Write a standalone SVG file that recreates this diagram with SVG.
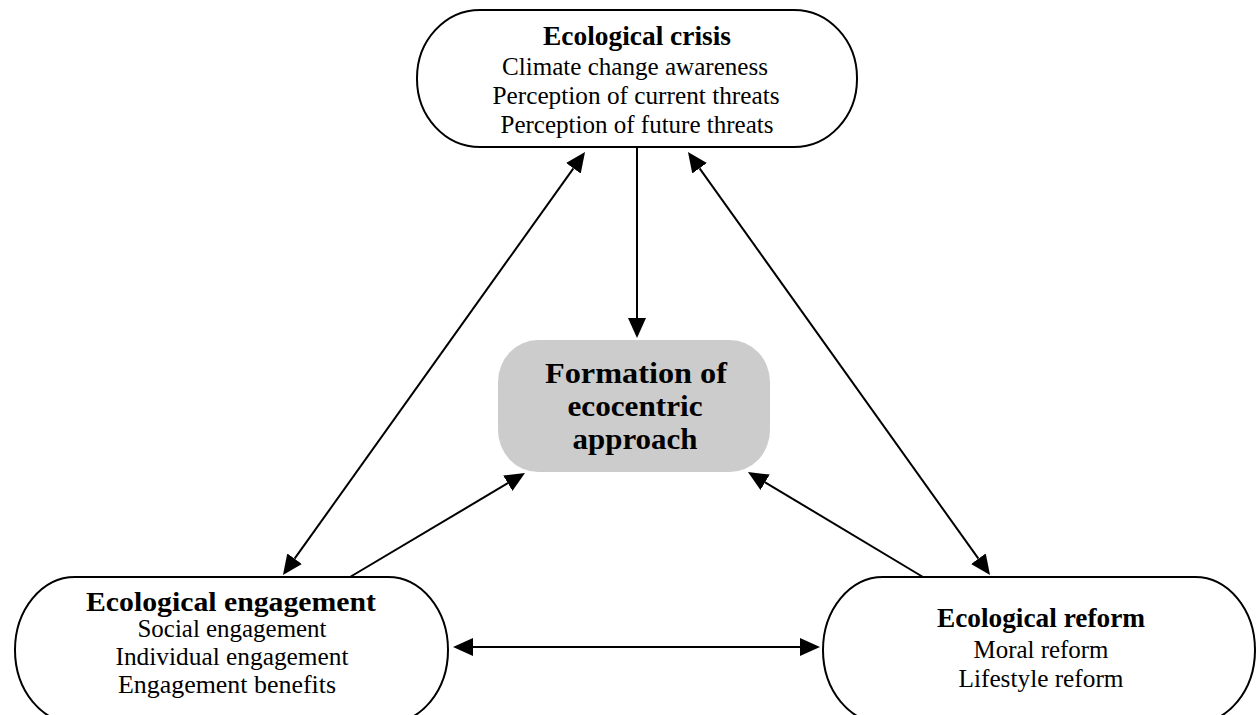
<svg xmlns="http://www.w3.org/2000/svg" width="1257" height="715" viewBox="0 0 1257 715">
<style>
  .node { fill: #ffffff; stroke: #000000; stroke-width: 2; }
  .core { fill: #cccccc; stroke: none; }
  .t { font-family: "Liberation Serif", "Times New Roman", serif; text-anchor: middle; fill: #000000; }
  .title { font-size: 27px; font-weight: bold; }
  .body { font-size: 25px; }
  .big { font-size: 29px; font-weight: bold; }
  .conn line { stroke: #000000; stroke-width: 2; fill: none; }
</style>
<defs>
  <marker id="ah" viewBox="0 0 20 18" refX="0" refY="9" markerWidth="20" markerHeight="18" markerUnits="userSpaceOnUse" orient="auto-start-reverse">
    <path d="M0,0 L20,9 L0,18 Z" fill="#000000"/>
  </marker>
</defs>
<rect x="0" y="0" width="1257" height="715" fill="#ffffff"/>

<g id="node-crisis">
  <rect class="node" x="417" y="10" width="440" height="137" rx="63" ry="68"/>
  <text class="t title" x="637" y="45" textLength="188" lengthAdjust="spacingAndGlyphs">Ecological crisis</text>
  <text class="t body" x="635" y="75" textLength="266" lengthAdjust="spacingAndGlyphs">Climate change awareness</text>
  <text class="t body" x="636" y="104" textLength="287" lengthAdjust="spacingAndGlyphs">Perception of current threats</text>
  <text class="t body" x="637" y="133" textLength="273" lengthAdjust="spacingAndGlyphs">Perception of future threats</text>
</g>

<g id="node-formation">
  <rect class="core" x="498" y="340" width="272" height="132" rx="40" ry="42"/>
  <text class="t big" x="636" y="383" textLength="182" lengthAdjust="spacingAndGlyphs">Formation of</text>
  <text class="t big" x="635" y="416" textLength="135" lengthAdjust="spacingAndGlyphs">ecocentric</text>
  <text class="t big" x="635" y="449" textLength="125" lengthAdjust="spacingAndGlyphs">approach</text>
</g>

<g id="node-engagement">
  <rect class="node" x="15" y="577" width="433" height="146" rx="60" ry="73"/>
  <text class="t title" x="231" y="611" textLength="290" lengthAdjust="spacingAndGlyphs">Ecological engagement</text>
  <text class="t body" x="232" y="637" textLength="189" lengthAdjust="spacingAndGlyphs">Social engagement</text>
  <text class="t body" x="232" y="665" textLength="233" lengthAdjust="spacingAndGlyphs">Individual engagement</text>
  <text class="t body" x="227" y="693" textLength="218" lengthAdjust="spacingAndGlyphs">Engagement benefits</text>
</g>

<g id="node-reform">
  <rect class="node" x="823" y="577" width="432" height="146" rx="60" ry="73"/>
  <text class="t title" x="1041" y="627" textLength="208" lengthAdjust="spacingAndGlyphs">Ecological reform</text>
  <text class="t body" x="1041" y="658" textLength="135" lengthAdjust="spacingAndGlyphs">Moral reform</text>
  <text class="t body" x="1041" y="687" textLength="165" lengthAdjust="spacingAndGlyphs">Lifestyle reform</text>
</g>

<g id="connectors" class="conn">
  <line x1="637" y1="148" x2="637" y2="318" marker-end="url(#ah)"/>
  <line x1="573.4" y1="168.3" x2="294.6" y2="558.7" marker-start="url(#ah)" marker-end="url(#ah)"/>
  <line x1="699.6" y1="168.3" x2="978.4" y2="558.7" marker-start="url(#ah)" marker-end="url(#ah)"/>
  <line x1="350" y1="577" x2="507.8" y2="483.2" marker-end="url(#ah)"/>
  <line x1="923" y1="577" x2="765.1" y2="482.3" marker-end="url(#ah)"/>
  <line x1="473" y1="647" x2="800" y2="647" marker-start="url(#ah)" marker-end="url(#ah)"/>
</g>
</svg>
